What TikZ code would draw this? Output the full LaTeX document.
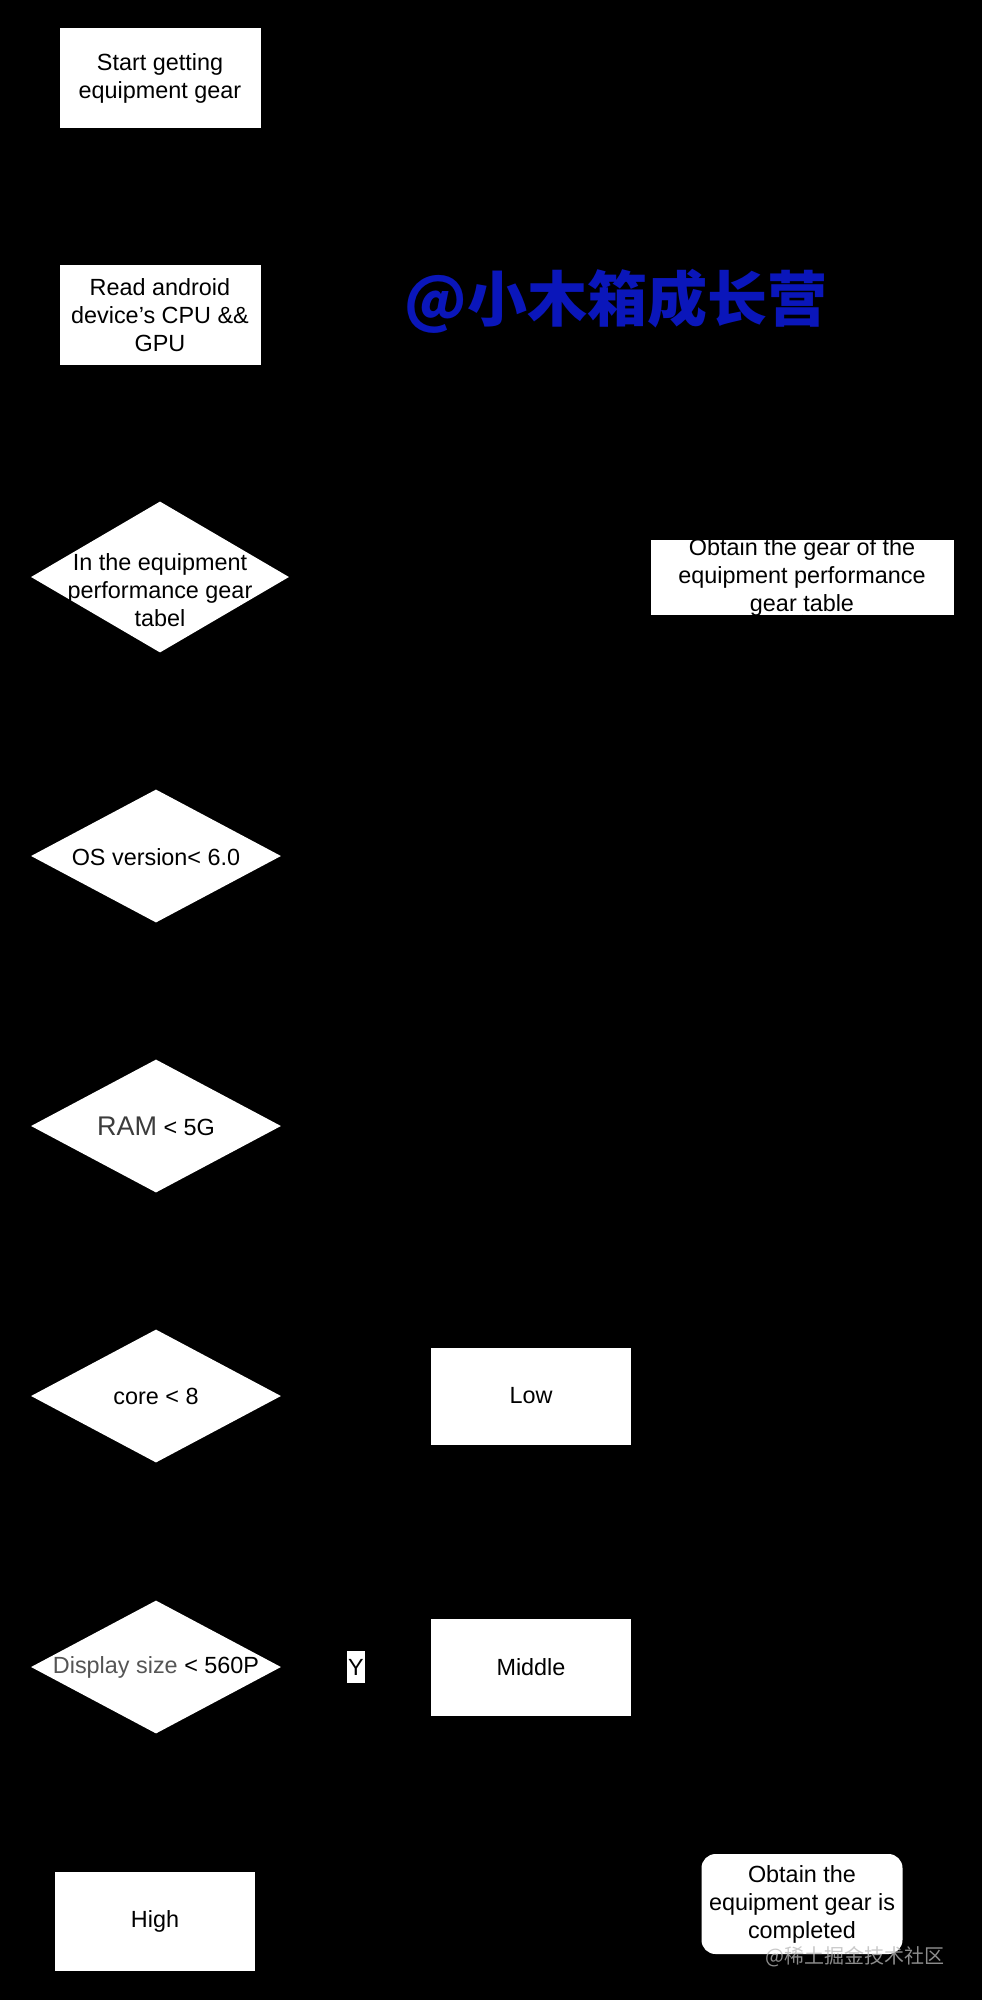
\documentclass[tikz,border=0pt]{standalone}
\usepackage{fontspec}
\setmainfont{Liberation Sans}
\newfontfamily\cjkfont{Noto Sans CJK SC}
\usetikzlibrary{shapes.geometric,arrows.meta}
\definecolor{wmblue}{RGB}{10,22,186}
\definecolor{wmgray}{RGB}{184,184,184}
\definecolor{softgray}{RGB}{85,85,85}
\definecolor{ramgray}{RGB}{60,60,60}
\begin{document}
\begin{tikzpicture}[x=1pt,y=-1pt,
  box/.style={rectangle, fill=white, draw=none, inner sep=0pt},
  dia/.style={diamond, fill=white, draw=none, inner sep=0pt},
  txt/.style={font=\fontsize{23.4}{28}\selectfont, align=center, text=black, inner sep=0pt},
  conn/.style={draw=black, line width=1pt, -{Stealth[length=8pt]}},
  ylab/.style={fill=white, inner sep=0pt, minimum width=18pt, minimum height=32pt, font=\fontsize{23.4}{28}\selectfont, text=black}
]
\fill[black] (0,0) rectangle (982,2000);
\useasboundingbox (0,0) rectangle (982,2000);

% shapes
\node[box, minimum width=201pt, minimum height=100pt] (start) at (160,78) {};
\node[box, minimum width=201pt, minimum height=100pt] (read) at (160,315) {};
\node[dia, minimum width=258pt, minimum height=151pt] (d1) at (160,577) {};
\node[box, minimum width=303pt, minimum height=75pt] (obtain) at (802,577) {};
\node[dia, minimum width=250pt, minimum height=133pt] (os) at (156,856) {};
\node[dia, minimum width=250pt, minimum height=133pt] (ram) at (156,1126) {};
\node[dia, minimum width=250pt, minimum height=133pt] (core) at (156,1396) {};
\node[box, minimum width=200pt, minimum height=97pt] (low) at (531,1396) {};
\node[dia, minimum width=250pt, minimum height=133pt] (disp) at (156,1667) {};
\node[box, minimum width=200pt, minimum height=97pt] (middle) at (531,1667) {};
\node[box, minimum width=200pt, minimum height=99pt] (high) at (155,1921) {};
\node[box, rounded corners=14pt, minimum width=201pt, minimum height=100pt] (done) at (802,1904) {};

% connectors (black on black, as in the reference)
\draw[conn] (start) -- (read);
\draw[conn] (read) -- (d1);
\draw[conn] (d1) -- (obtain);
\draw[conn] (d1) -- (os);
\draw[conn] (os) -- (ram);
\draw[conn] (ram) -- (core);
\draw[conn] (core) -- (low);
\draw[conn] (core) -- (disp);
\draw[conn] (disp) -- node[ylab, pos=0.5] (ylabel) {Y} (middle);
\draw[conn] (disp) -- (high);
\draw[conn] (obtain) -- (done);

% texts
\node[txt] (startt) at (160,78) {Start getting\\equipment gear};
\node[txt] (readt) at (160,315) {Read android\\device's CPU \&\&\\GPU};
\node[txt] (d1t) at (160,590) {In the equipment\\performance gear\\tabel};
\node[txt] (obtaint) at (802,577) {Obtain the gear of the\\equipment performance\\gear table};
\node[txt] (ost) at (156,857) {OS version< 6.0};
\node[txt] (ramt) at (156,1126) {{\fontsize{27}{28}\selectfont\color{ramgray}RAM} \textless{} 5G};
\node[txt] (coret) at (156,1396) {core \textless{} 8};
\node[txt] (lowt) at (531,1396) {Low};
\node[txt] (dispt) at (156,1667) {{\color{softgray}Display size} \textless{} 560P};
\node[txt] (middlet) at (531,1667) {Middle};
\node[txt] (hight) at (155,1921) {High};
\node[txt] (donet) at (802,1904) {Obtain the\\equipment gear is\\completed};

% watermarks
\node[text=wmblue, inner sep=0pt, font=\cjkfont\bfseries\fontsize{60}{60}\selectfont] (wm) at (616,301) {@小木箱成长营};
\node[text=wmgray, text opacity=0.76, inner sep=0pt, font=\cjkfont\fontsize{20}{20}\selectfont] (wm2) at (855,1957) {@稀土掘金技术社区};
\end{tikzpicture}
\end{document}
